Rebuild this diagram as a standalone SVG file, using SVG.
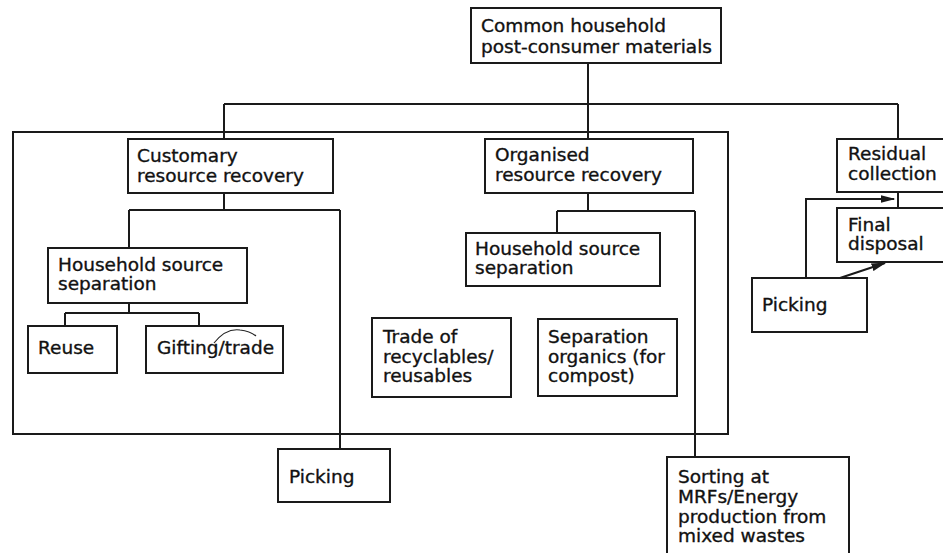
<svg xmlns="http://www.w3.org/2000/svg" width="943" height="553" viewBox="0 0 943 553">
<style>
.b{fill:#fff;stroke:#1a1a1a;stroke-width:2}
.t{font-family:"DejaVu Sans","Liberation Sans",sans-serif;font-size:18.5px;fill:#111;stroke:#111;stroke-width:0.35}
.c{fill:none;stroke:#1a1a1a;stroke-width:2}
</style>
<defs>
<marker id="ah2" viewBox="0 0 10 10" refX="9" refY="5" markerWidth="15" markerHeight="8" orient="auto" markerUnits="userSpaceOnUse" preserveAspectRatio="none">
<path d="M0,0 L10,5 L0,10 z" fill="#1a1a1a"/>
</marker>
</defs>
<rect width="943" height="553" fill="#fff"/>
<g id="group-frame">
<rect x="13" y="132" width="715" height="302" class="c"/>
</g>
<g id="connectors">
<path class="c" d="M588,63 V139"/>
<path class="c" d="M224,104 H898"/>
<path class="c" d="M224,104 V139"/>
<path class="c" d="M898,104 V139"/>
<path class="c" d="M224,193 V210 M129,210 H340 M129,210 V248 M340,210 V449"/>
<path class="c" d="M129,303 V313 M65,313 H199 M65,313 V326 M199,313 V326"/>
<path class="c" d="M588,193 V211 M557,211 H695 M557,211 V233 M695,211 V457"/>
<path class="c" d="M898,192 V208"/>
<path class="c" d="M806,278 V199 H894" marker-end="url(#ah2)"/>
<path class="c" d="M840,278 L885,263" marker-end="url(#ah2)"/>
</g>
<g id="node-common">
<rect x="471" y="8" width="250" height="55" class="b"/>
<text class="t" x="481" y="32">Common household</text>
<text class="t" x="481" y="53">post-consumer materials</text>
</g>
<g id="node-customary">
<rect x="128" y="139" width="205" height="54" class="b"/>
<text class="t" x="137" y="162">Customary</text>
<text class="t" x="137" y="182">resource recovery</text>
</g>
<g id="node-organised">
<rect x="485" y="139" width="208" height="54" class="b"/>
<text class="t" x="495" y="161">Organised</text>
<text class="t" x="495" y="181">resource recovery</text>
</g>
<g id="node-residual">
<rect x="837" y="139" width="115" height="53" class="b"/>
<text class="t" x="848" y="160">Residual</text>
<text class="t" x="848" y="180">collection</text>
</g>
<g id="node-final">
<rect x="837" y="208" width="115" height="54" class="b"/>
<text class="t" x="848" y="231">Final</text>
<text class="t" x="848" y="250">disposal</text>
</g>
<g id="node-picking-right">
<rect x="752" y="278" width="115" height="54" class="b"/>
<text class="t" x="762" y="311">Picking</text>
</g>
<g id="node-hss-left">
<rect x="48" y="248" width="199" height="55" class="b"/>
<text class="t" x="58" y="271">Household source</text>
<text class="t" x="58" y="290">separation</text>
</g>
<g id="node-hss-right">
<rect x="466" y="233" width="194" height="53" class="b"/>
<text class="t" x="475" y="255">Household source</text>
<text class="t" x="475" y="274">separation</text>
</g>
<g id="node-reuse">
<rect x="28" y="326" width="89" height="47" class="b"/>
<text class="t" x="38" y="354">Reuse</text>
</g>
<g id="node-gifting">
<rect x="146" y="326" width="137" height="47" class="b"/>
<text class="t" x="157" y="354">Gifting/trade</text>
<path fill="none" stroke="#222" stroke-width="1.2" d="M214,343 Q226,328 240,330 Q250,331 256,336"/>
</g>
<g id="node-trade">
<rect x="372" y="318" width="139" height="79" class="b"/>
<text class="t" x="383" y="343">Trade of</text>
<text class="t" x="383" y="363">recyclables/</text>
<text class="t" x="383" y="382">reusables</text>
</g>
<g id="node-separation">
<rect x="538" y="319" width="139" height="77" class="b"/>
<text class="t" x="548" y="343">Separation</text>
<text class="t" x="548" y="363">organics (for</text>
<text class="t" x="548" y="382">compost)</text>
</g>
<g id="node-picking-bottom">
<rect x="278" y="449" width="112" height="53" class="b"/>
<text class="t" x="289" y="483">Picking</text>
</g>
<g id="node-sorting">
<rect x="667" y="457" width="182" height="110" class="b"/>
<text class="t" x="678" y="483">Sorting at</text>
<text class="t" x="678" y="503">MRFs/Energy</text>
<text class="t" x="678" y="523">production from</text>
<text class="t" x="678" y="542">mixed wastes</text>
</g>
</svg>
